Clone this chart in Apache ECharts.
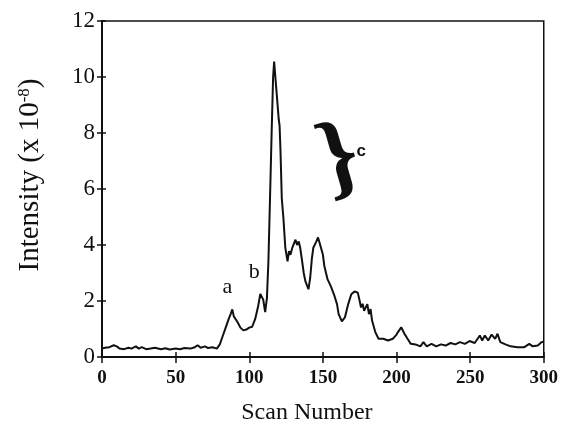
<!DOCTYPE html>
<html>
<head>
<meta charset="utf-8">
<script src="https://cdn.jsdelivr.net/npm/echarts@6/dist/echarts.min.js"></script>
<style>
  html, body { margin: 0; padding: 0; background: #fff; }
  #main { width: 561px; height: 430px; }
</style>
</head>
<body>
<div id="main"></div>
<script>
var scan = [0, 2, 5, 8, 10, 12, 15, 18, 20, 23, 25, 27, 30, 33, 36, 40, 43, 46, 50, 53, 56, 60, 63, 65, 67, 70, 72, 75, 78,
    80, 82, 84, 86, 87.5, 88.5, 89.5, 90.5, 92, 94, 96, 98, 100, 102, 104, 106, 107.5, 108.5, 109.5, 110.8, 112, 113,
    114.1, 115.2, 116.2, 116.9, 118.4, 120, 120.6, 121.2, 122.1, 123.2, 124.5, 126, 127, 128, 129.2, 131.4, 132.5, 133.6,
    134.6, 135.7, 137, 138.1, 140.2, 141.4, 142.5, 143.5, 145.6, 146.7, 147.8, 150, 151, 153.2, 155.3, 157.5, 159.6, 160.7,
    162.9, 165, 167.2, 169.3, 171.5, 173.7, 175, 175.9, 177, 178, 180.2, 181.3, 182.4, 183.4, 185.6, 187.8, 191, 194.3,
    197.5, 200, 201, 203.2, 205.4, 207.5, 209.7, 212.9, 216.2, 218.3, 220.5, 223.8, 227, 230.2, 233.4, 236.7, 239.9, 243.2,
    246.4, 249.6, 253.1, 256.6, 258.2, 260, 262.3, 264.6, 267, 268.6, 270.5, 274, 277.5, 282.1, 286.8, 290.2, 292.5, 296,
    298.4, 300];
var intensity = [0.30, 0.33, 0.35, 0.42, 0.38, 0.30, 0.28, 0.33, 0.30, 0.38, 0.30, 0.35, 0.28, 0.30, 0.33, 0.28, 0.31, 0.27, 0.30, 0.28, 0.32, 0.30, 0.35, 0.42, 0.33, 0.38, 0.32, 0.35, 0.30,
    0.45, 0.75, 1.05, 1.35, 1.55, 1.70, 1.45, 1.50, 1.25, 1.05, 0.95, 0.98, 1.05, 1.08, 1.35, 1.80, 2.25, 2.30, 2.05, 1.60, 2.10, 3.40,
    5.66, 8.0, 10.0, 10.55, 9.56, 8.5, 8.26, 7.4, 5.66, 4.96, 3.9, 3.42, 3.78, 3.65, 3.9, 4.19, 4.0, 4.13,
    3.9, 3.5, 3.0, 2.71, 2.42, 2.83, 3.5, 3.9, 4.13, 4.27, 4.07, 3.66, 3.25, 2.77, 2.54, 2.24, 1.89, 1.53,
    1.27, 1.42, 1.89, 2.24, 2.34, 2.30, 2.0, 1.77, 1.9, 1.65, 1.89, 1.53, 1.71, 1.30, 0.89, 0.65, 0.65, 0.59,
    0.65, 0.80, 0.89, 1.06, 0.83, 0.65, 0.47, 0.45, 0.38, 0.53, 0.38, 0.47, 0.38, 0.45, 0.41, 0.50, 0.45, 0.53,
    0.47, 0.57, 0.50, 0.77, 0.59, 0.77, 0.59, 0.80, 0.65, 0.83, 0.53, 0.45, 0.38, 0.35, 0.35, 0.47, 0.38, 0.41,
    0.53, 0.55];

// peak labels, placed in data coordinates
var noteText = ['a', 'b', 'c'];
var noteX = [85.1, 103.4, 176];
var noteY = [2.48, 3.03, 7.36];
var braceX = 161.5;
var braceY = 7.0;

var serif = 'Liberation Serif';
var chart = echarts.init(document.getElementById('main'));

var points = scan.map(function (x, i) { return [x, intensity[i]]; });

var xBase = { type: 'value', min: 0, max: 300, interval: 50, splitLine: { show: false } };
var yBase = { type: 'value', min: 0, max: 12, interval: 2, splitLine: { show: false } };

chart.setOption({
    backgroundColor: '#fff',
    animation: false,
    grid: {
        left: 102, right: 12, top: 21, bottom: 70,
        show: true, borderColor: '#111', borderWidth: 1.5
    },
    xAxis: [
        Object.assign({}, xBase, {
            position: 'bottom',
            name: 'Scan Number',
            nameLocation: 'middle',
            nameGap: 44,
            nameTextStyle: { fontFamily: serif, fontSize: 24, color: '#111', padding: [0, 32, 0, 0] },
            axisLine: { lineStyle: { color: '#111', width: 2 } },
            axisTick: { inside: false, length: 6, lineStyle: { color: '#111', width: 1.5 } },
            axisLabel: { margin: 12, fontFamily: serif, fontWeight: 'bold', fontSize: 19, color: '#111' }
        }),
        Object.assign({}, xBase, {
            position: 'bottom',
            axisLine: { show: false },
            axisTick: { inside: true, length: 5, lineStyle: { color: '#111', width: 1.5 } },
            axisLabel: { show: false }
        })
    ],
    yAxis: [
        Object.assign({}, yBase, {
            position: 'left',
            name: 'Intensity (x 10{sup|-8})',
            nameLocation: 'middle',
            nameRotate: 90,
            nameGap: 57,
            nameTextStyle: {
                fontFamily: serif, fontSize: 29, color: '#111', padding: [0, 0, 0, 28],
                rich: { sup: { fontFamily: serif, fontSize: 17, color: '#111', verticalAlign: 'top', padding: [0, 0, 12, 0] } }
            },
            axisLine: { lineStyle: { color: '#111', width: 2 } },
            axisTick: { inside: false, length: 5, lineStyle: { color: '#111', width: 1.5 } },
            axisLabel: { margin: 7, fontFamily: serif, fontSize: 23, color: '#111' }
        }),
        Object.assign({}, yBase, {
            position: 'left',
            axisLine: { show: false },
            axisTick: { inside: true, length: 4, lineStyle: { color: '#111', width: 1.5 } },
            axisLabel: { show: false }
        })
    ],
    series: [{
        type: 'line',
        data: points,
        showSymbol: false,
        lineStyle: { color: '#111', width: 2 }
    }]
});

var notes = noteText.map(function (t, i) {
    var p = chart.convertToPixel({ gridIndex: 0 }, [noteX[i], noteY[i]]);
    return {
        type: 'text', x: p[0], y: p[1],
        style: {
            text: t, align: 'center', verticalAlign: 'middle', fill: '#111',
            font: t === 'c' ? 'bold 17px Liberation Sans' : '22px ' + serif
        }
    };
});
var bp = chart.convertToPixel({ gridIndex: 0 }, [braceX, braceY]);
notes.push({
    type: 'text', x: bp[0], y: bp[1], rotation: 0.28,
    style: { text: '}', align: 'center', verticalAlign: 'middle', fill: '#111', font: 'bold 96px ' + serif }
});
chart.setOption({ graphic: notes });
</script>
</body>
</html>
